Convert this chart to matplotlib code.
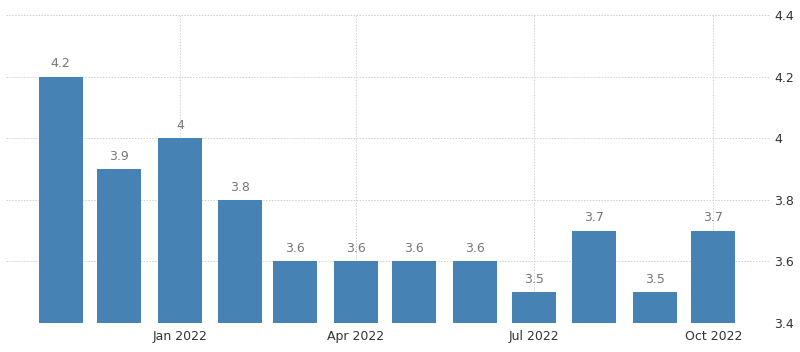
import matplotlib
matplotlib.use("Agg")
import matplotlib.pyplot as plt
import numpy as np
import datetime as dt

months = ["2021-11-01", "2021-12-01", "2022-01-01", "2022-02-01", "2022-03-01", "2022-04-01",
          "2022-05-01", "2022-06-01", "2022-07-01", "2022-08-01", "2022-09-01", "2022-10-01"]
values = [4.2, 3.9, 4.0, 3.8, 3.6, 3.6, 3.6, 3.6, 3.5, 3.7, 3.5, 3.7]
labels = ["4.2", "3.9", "4", "3.8", "3.6", "3.6", "3.6", "3.6", "3.5", "3.7", "3.5", "3.7"]
yticks = [3.4, 3.6, 3.8, 4.0, 4.2, 4.4]
ytick_labels = ["3.4", "3.6", "3.8", "4", "4.2", "4.4"]
xticks = ["2022-01-01", "2022-04-01", "2022-07-01", "2022-10-01"]
xtick_labels = ["Jan 2022", "Apr 2022", "Jul 2022", "Oct 2022"]

dates = [dt.datetime.strptime(m, "%Y-%m-%d") for m in months]
xt = [dt.datetime.strptime(m, "%Y-%m-%d") for m in xticks]

fig = plt.figure(figsize=(8, 3.52), dpi=100)
ax = fig.add_axes([6/800, 29/352, 764/800, 308/352])

# bars start at the bottom of the axis (3.4)
base = 3.4
ax.bar(dates, np.array(values) - base, bottom=base, width=22.5, color="#4682b4", zorder=2)
for d, v, l in zip(dates, values, labels):
    ax.text(d, v + 0.02, l, ha="center", va="bottom", fontsize=9, color="#777777")

ax.set_ylim(3.4, 4.4)
ax.set_xlim(dt.datetime(2021, 10, 4), dt.datetime(2022, 10, 30))
ax.yaxis.tick_right()
ax.set_yticks(yticks)
ax.set_yticklabels(ytick_labels)
ax.set_xticks(xt)
ax.set_xticklabels(xtick_labels)
ax.tick_params(axis="both", length=0, labelsize=9, labelcolor="#333333")
ax.tick_params(axis="y", pad=3)
ax.tick_params(axis="x", pad=5)
ax.grid(True, linestyle=(0, (1.5, 1.5)), color="#d0d0d0", linewidth=0.7, zorder=0)
ax.set_axisbelow(True)
for s in ax.spines.values():
    s.set_visible(False)

fig.savefig("out.png", dpi=100)
